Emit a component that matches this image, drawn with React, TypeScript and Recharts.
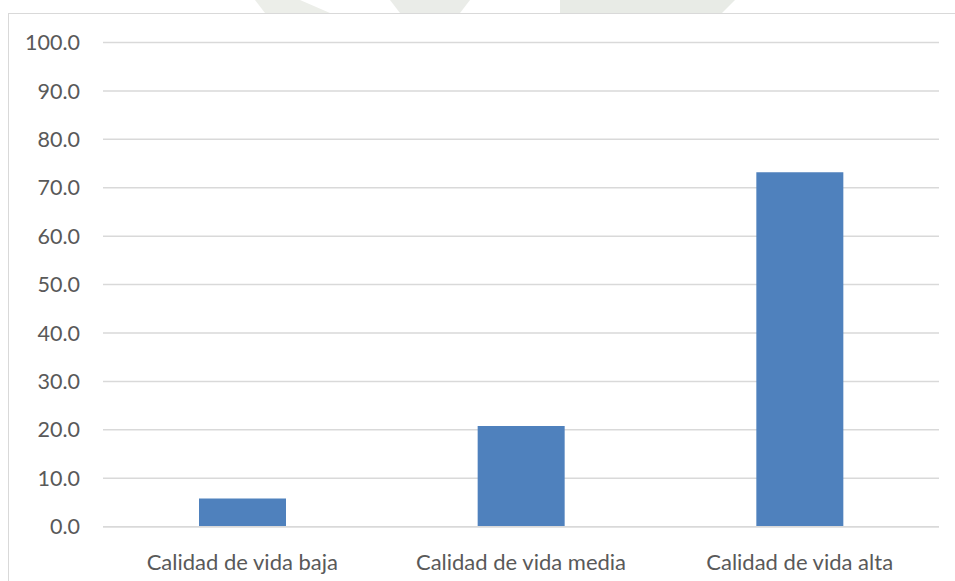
import React from "react";
import { BarChart, Bar, XAxis, YAxis, CartesianGrid } from "recharts";

const categories = ["Calidad de vida baja", "Calidad de vida media", "Calidad de vida alta"];
const values = [5.8, 20.8, 73.2];
const yTicks = [0, 10, 20, 30, 40, 50, 60, 70, 80, 90, 100];

const data = categories.map((c, i) => ({ name: c, value: values[i] }));

const FONT = "Lato, 'Open Sans', sans-serif";
const TEXT = "#595959";
const GRID = "#d9d9d9";

export default function App() {
  return (
    <div style={{ position: "absolute", left: 0, top: 0, width: 955, height: 581, background: "#fff", overflow: "hidden" }}>
      <svg width={955} height={14} style={{ position: "absolute", left: 0, top: 0 }}>
        <polygon points="255,0 300,0 330,13 265,13" fill="#eceee9" />
        <polygon points="390,0 470,0 460,13 400,13" fill="#eaece8" />
        <polygon points="560,0 735,0 722,13 560,13" fill="#e8ebe6" />
      </svg>
      <div style={{ position: "absolute", left: 8, top: 13, width: 1000, height: 700, border: `1.5px solid ${GRID}`, boxSizing: "border-box" }} />
      <div style={{ position: "absolute", left: 0, top: 0 }}>
        <BarChart
          width={955}
          height={581}
          data={data}
          margin={{ top: 42.5, right: 16, bottom: 14.3, left: 0 }}
          barSize={87}
        >
          <CartesianGrid vertical={false} stroke={GRID} strokeWidth={1.5} />
          <XAxis
            dataKey="name"
            height={40}
            tickLine={false}
            axisLine={{ stroke: GRID, strokeWidth: 1.5 }}
            tickSize={0}
            tickMargin={27.5}
            tick={{ fill: TEXT, fontSize: 22, fontFamily: FONT }}
            interval={0}
          />
          <YAxis
            width={103}
            domain={[0, 100]}
            ticks={yTicks}
            tickFormatter={(v: number) => v.toFixed(1)}
            axisLine={false}
            tickLine={false}
            tickSize={0}
            tickMargin={23}
            tick={{ fill: TEXT, fontSize: 21.5, fontFamily: FONT }}
          />
          <Bar dataKey="value" fill="#4f81bd" isAnimationActive={false} />
        </BarChart>
      </div>
    </div>
  );
}
